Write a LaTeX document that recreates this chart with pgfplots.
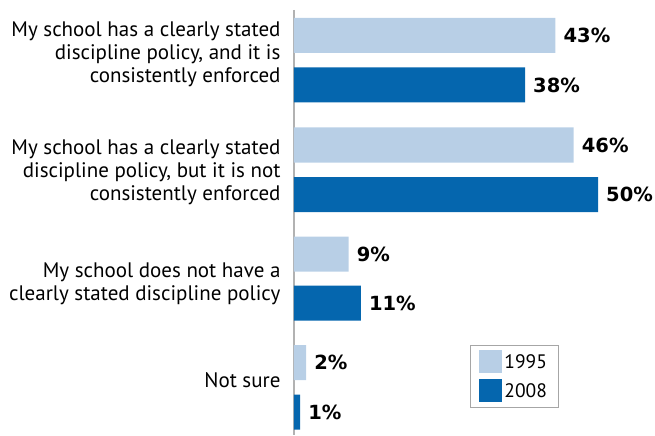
\documentclass[border=0pt]{standalone}
\usepackage{pgfplots}
\pgfplotsset{compat=1.18}
\usepackage{fontspec}
\setmainfont{PT Sans}
\newfontfamily\numfont{DejaVu Sans}
\definecolor{lightb}{HTML}{B8CFE6}
\definecolor{darkb}{HTML}{0566AE}
\begin{document}
\begin{tikzpicture}
\path (-294pt,0pt) rectangle (361pt,435pt);
\begin{axis}[
  at={(0pt,0pt)}, anchor=south west,
  scale only axis, width=361pt, height=425pt,
  xmin=0, xmax=59.375, ymin=10, ymax=435, y dir=reverse,
  axis x line=none, axis y line=left,
  y axis line style={-, draw=black!30, line width=1.2pt},
  xbar, bar width=35pt, bar shift=0pt,
  /pgf/number format/assume math mode=true,
  ytick={54,172,284,380},
  yticklabels={{My school has a clearly stated\\discipline policy, and it is\\consistently enforced},
               {My school has a clearly stated\\discipline policy, but it is not\\consistently enforced},
               {My school does not have a\\clearly stated discipline policy},
               {Not sure}},
  yticklabel style={align=right, font=\fontsize{21}{23}\selectfont, text=black},
  major tick length=0pt,
  yticklabel shift=10pt,
  clip=false,
  nodes near coords={\pgfmathprintnumber{\pgfplotspointmeta}\%},
  nodes near coords style={font=\numfont\bfseries\fontsize{19.5}{21}\selectfont, anchor=west, inner sep=0pt, xshift=8pt, text=black},
  legend style={at={(axis description cs:0.4875,0.2118)}, anchor=north west,
    draw=black!35, line width=0.8pt, font=\fontsize{19.5}{21}\selectfont,
    inner xsep=9pt, inner ysep=5pt, row sep=6pt, cells={anchor=west}},
  legend cell align=left,
  legend image code/.code={\fill[#1] (0pt,-11.5pt) rectangle (23pt,11.5pt);},
]
\addplot[fill=lightb, draw=none] coordinates {(43,35.5) (46,145) (9,254) (2,362.5)};
\addplot[fill=darkb, draw=none] coordinates {(38,85) (50,194.5) (11,303) (1,412)};
\legend{1995,2008}
\end{axis}
\end{tikzpicture}
\end{document}
